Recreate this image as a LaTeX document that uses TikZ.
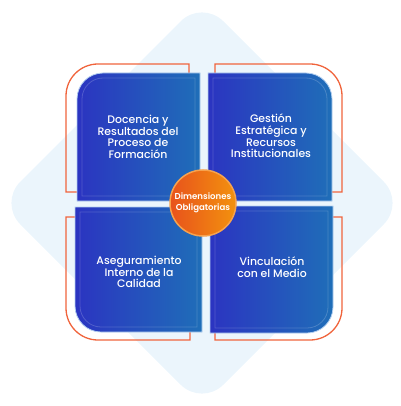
\documentclass[tikz,border=0pt]{standalone}
\usepackage{fontspec}
\setmainfont{Poppins}
\newfontfamily\popmed{Poppins Medium}
\newfontfamily\popbold{Poppins SemiBold}
\definecolor{diam}{HTML}{EBF5FC}
\definecolor{boxL}{HTML}{2B34C1}
\definecolor{boxR}{HTML}{1F6EB8}
\definecolor{boxedge}{HTML}{B3CFF0}
\definecolor{oline}{HTML}{F0643C}
\definecolor{circL}{HTML}{E8521C}
\definecolor{circR}{HTML}{F3920E}
\definecolor{ring}{HTML}{F6A24E}
\begin{document}
\begin{tikzpicture}[x=1pt,y=-1pt,
  boxshape/.style={left color=boxL,right color=boxR,draw=boxedge,line width=0.8pt},
  innerline/.style={draw=white,opacity=0.18,line width=0.8pt},
  orangeline/.style={draw=oline,line width=1.3pt},
  boxtext/.style={text=white,align=center,font=\popmed\fontsize{10.9}{11.7}\selectfont},
  centretext/.style={text=white,align=center,font=\popbold\fontsize{8.6}{10.7}\selectfont}]
\useasboundingbox (0,0) rectangle (400,406);
% background diamond
\fill[diam,rounded corners=30] (202,0)--(405,203)--(202,406)--(-1,203)--cycle;
% orange outlines
\draw[orangeline] (189,73)--(189,64)--(98,64) .. controls (80.3,64) and (66,78.3) .. (66,96) -- (66,192) -- (77,192);
\draw[orangeline] (215,73)--(215,64)--(310,64) .. controls (327.7,64) and (342,78.3) .. (342,96) -- (342,192) -- (332,192);
\draw[orangeline] (75,217)--(66,217)--(66,308) .. controls (66,325.7) and (80.3,340) .. (98,340) -- (190,340) -- (190,332);
\draw[orangeline] (333,217)--(342,217)--(342,308) .. controls (342,325.7) and (327.7,340) .. (310,340) -- (215,340) -- (215,333);
% boxes
\shade[boxshape] (200,73) -- (103,73) .. controls (88.6,73) and (77,84.6) .. (77,99) -- (77,201) -- (200,201) -- cycle;
\shade[boxshape] (208,73) -- (306,73) .. controls (320.4,73) and (332,84.6) .. (332,99) -- (332,201) -- (208,201) -- cycle;
\shade[boxshape] (75,207) -- (202,207) -- (202,332) -- (101,332) .. controls (86.6,332) and (75,320.4) .. (75,306) -- cycle;
\shade[boxshape] (210,206) -- (333,206) -- (333,307) .. controls (333,321.4) and (321.4,333) .. (307,333) -- (210,333) -- cycle;
% inner lines
\draw[innerline] (195,78) -- (103,78) .. controls (91.4,78) and (82,87.4) .. (82,99) -- (82,196) -- (195,196) -- cycle;
\draw[innerline] (213,78) -- (306,78) .. controls (317.6,78) and (327,87.4) .. (327,99) -- (327,196) -- (213,196) -- cycle;
\draw[innerline] (80,212) -- (197,212) -- (197,327) -- (101,327) .. controls (89.4,327) and (80,317.6) .. (80,306) -- cycle;
\draw[innerline] (215,211) -- (328,211) -- (328,307) .. controls (328,318.6) and (318.6,328) .. (307,328) -- (215,328) -- cycle;
% texts
\node[boxtext] (tl) at (138,137) {Docencia y\\Resultados del\\Proceso de\\Formación};
\node[boxtext] (tr) at (271,136) {Gestión\\Estratégica y\\Recursos\\Institucionales};
\node[boxtext] (bl) at (139,272) {Aseguramiento\\Interno de la\\Calidad};
\node[boxtext] (br) at (272,267) {Vinculación\\con el Medio};
% centre circle
\node[circle,minimum size=66pt,inner sep=0pt,left color=circL,right color=circR,draw=ring,line width=1.5pt,centretext] (c) at (203,203) {Dimensiones\\Obligatorias};
\end{tikzpicture}
\end{document}
